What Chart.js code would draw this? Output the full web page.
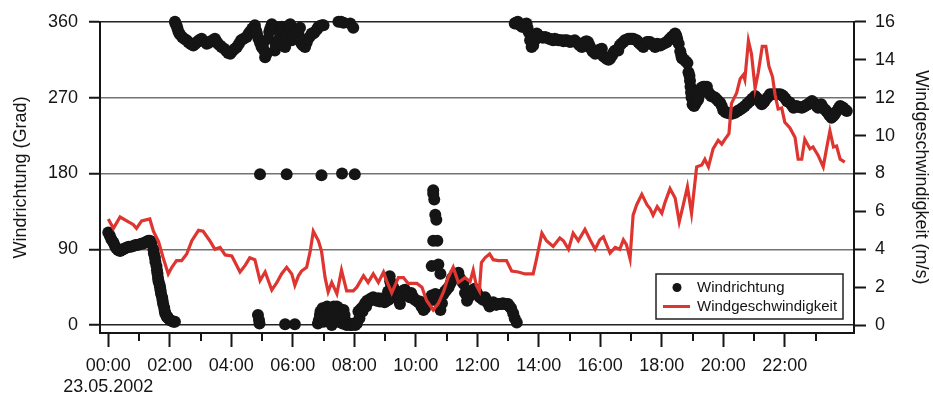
<!DOCTYPE html>
<html>
<head>
<meta charset="utf-8">
<title>Wind 23.05.2002</title>
<script src="https://cdn.jsdelivr.net/npm/chart.js@4.4.1/dist/chart.umd.min.js"></script>
<style>
  html, body { margin: 0; padding: 0; background: #fff; }
  #windChart { display: block; }
</style>
</head>
<body>
<canvas id="windChart" width="933" height="398"></canvas>
<script>
// Station readings of 23.05.2002, time in minutes after midnight
const dateLabel = "23.05.2002";

// Wind direction, [minute, degrees], grouped by stretch of the day
const dirNightEast = [
  [0, 110], [3, 106], [6, 102], [10, 98], [13, 94], [16, 91], [19, 89], [23, 88], [26, 89], [29, 90],
  [32, 91], [36, 92], [40, 93], [44, 93], [49, 94], [53, 95], [57, 95], [62, 96], [66, 97], [69, 97],
  [72, 98], [75, 99], [78, 100], [81, 100], [85, 99], [88, 90], [89, 85], [91, 80], [92, 75], [94, 70],
  [95, 65], [96, 61], [97, 56], [98, 52], [100, 48], [101, 45], [102, 41], [103, 37], [105, 33], [106, 29],
  [107, 25], [109, 21], [110, 17], [111, 14], [113, 12], [114, 10], [116, 9], [117, 8], [120, 6], [124, 5],
  [127, 4], [130, 4]
];
const dirMorningNorth = [
  [130, 360], [131, 358], [133, 356], [135, 352], [137, 348], [140, 345], [144, 342], [148, 340], [153, 338],
  [156, 336], [160, 334], [163, 333], [166, 332], [170, 334], [173, 336], [177, 338], [182, 340], [187, 337],
  [192, 334], [196, 335], [200, 337], [204, 338], [208, 340], [211, 337], [214, 334], [218, 332], [221, 330],
  [226, 328], [231, 325], [234, 323], [238, 322], [240, 324], [243, 326], [247, 328], [251, 330], [255, 334],
  [259, 338], [264, 340], [270, 342], [273, 345], [276, 348], [281, 352], [286, 356], [288, 350], [290, 346],
  [293, 340], [296, 335], [299, 330], [302, 334], [304, 326], [306, 318], [309, 322], [312, 340], [314, 348],
  [316, 352], [319, 357], [322, 355], [325, 326], [327, 332], [330, 336], [332, 338], [335, 346], [338, 354],
  [341, 342], [345, 330], [347, 340], [349, 350], [351, 354], [353, 356], [355, 357], [358, 338], [361, 344],
  [364, 350], [367, 348], [371, 346], [374, 353], [377, 334], [380, 332], [384, 330], [387, 335], [390, 340],
  [394, 343], [397, 346], [400, 346], [403, 348], [407, 351], [410, 354], [413, 355], [417, 356], [420, 356],
  [449, 360], [454, 360], [459, 359], [472, 358], [478, 353]
];
const dirSouth = [[296, 179], [348, 179], [416, 178], [456, 180], [481, 179]];
const dirMorningCalm = [[292, 12], [294, 6], [295, 2], [345, 1], [364, 1]];
const dirMiddayNorthEast = [
  [409, 2], [411, 6], [413, 12], [414, 16], [416, 10], [418, 20], [420, 4], [421, 14], [423, 18], [425, 6],
  [427, 22], [429, 20], [431, 14], [433, 8], [434, 4], [436, 0], [437, 12], [439, 18], [440, 22], [442, 10],
  [444, 16], [446, 22], [447, 12], [449, 4], [450, 20], [452, 4], [455, 10], [457, 2], [459, 18], [461, 12],
  [462, 6], [465, 0], [467, 2], [470, 2], [472, 0], [475, 0], [477, 1], [479, 2], [482, 0], [485, 2],
  [488, 16], [490, 8], [491, 18], [494, 20], [496, 16], [498, 22], [501, 26], [503, 22], [505, 29], [508, 28],
  [511, 31], [514, 32], [517, 33], [520, 30], [524, 29], [527, 32], [530, 28], [533, 30], [536, 32], [539, 27],
  [543, 29], [546, 40], [547, 30], [549, 58], [550, 52], [552, 47], [554, 44], [556, 45], [559, 40], [563, 39],
  [566, 30], [569, 25], [572, 34], [574, 38], [576, 41], [579, 42], [582, 36], [585, 37], [588, 33], [591, 38],
  [595, 33], [598, 30], [602, 29], [605, 27], [608, 28], [611, 22], [615, 18], [618, 20], [622, 26], [625, 30],
  [628, 31], [631, 35], [635, 30], [638, 37], [641, 36], [645, 28], [648, 18], [651, 26], [654, 37], [657, 40],
  [660, 42], [664, 45], [668, 50], [670, 55], [673, 57], [676, 60], [680, 58], [683, 62], [686, 56], [690, 52],
  [693, 49], [696, 38], [700, 29], [703, 33], [706, 37], [709, 40], [712, 42], [715, 43], [718, 40], [721, 36],
  [725, 33], [728, 32], [731, 30], [735, 33], [738, 29], [741, 26], [744, 22], [747, 26], [751, 27], [754, 25],
  [757, 24], [761, 25], [764, 25], [767, 25], [770, 26], [773, 25], [777, 25], [780, 25], [783, 22], [786, 20],
  [790, 14], [793, 8], [797, 3]
];
const dirGusty = [
  [634, 160], [634, 156], [636, 149], [638, 131], [640, 125], [634, 100], [642, 100], [631, 70], [644, 72], [648, 61]
];
const dirAfternoon = [
  [793, 358], [795, 359], [797, 358], [799, 360], [802, 357], [804, 356], [807, 354], [810, 354], [813, 357],
  [816, 358], [818, 353], [820, 348], [823, 338], [826, 330], [829, 332], [832, 338], [834, 342], [836, 346],
  [839, 344], [842, 342], [845, 342], [848, 341], [852, 342], [856, 341], [860, 340], [864, 339], [868, 338],
  [871, 340], [875, 339], [878, 338], [881, 338], [885, 338], [888, 337], [891, 338], [895, 338], [898, 337],
  [901, 336], [905, 337], [910, 338], [913, 336], [917, 334], [920, 332], [924, 330], [927, 333], [930, 336],
  [933, 337], [936, 336], [939, 332], [942, 328], [945, 325], [947, 324], [950, 322], [953, 324], [956, 326],
  [959, 327], [960, 326], [963, 328], [966, 319], [969, 318], [972, 316], [976, 315], [979, 316], [983, 320],
  [986, 324], [989, 326], [992, 326], [995, 326], [998, 332], [1001, 334], [1005, 336], [1008, 338], [1012, 339],
  [1015, 340], [1018, 340], [1021, 340], [1024, 340], [1027, 339], [1031, 338], [1034, 336], [1037, 334],
  [1041, 332], [1044, 330], [1047, 333], [1051, 336], [1054, 336], [1057, 336], [1061, 334], [1064, 332],
  [1067, 330], [1071, 334], [1074, 333], [1077, 332], [1080, 333], [1083, 334], [1087, 335], [1090, 336],
  [1093, 338], [1096, 340], [1099, 342], [1103, 344], [1106, 346], [1108, 344], [1110, 340], [1113, 334]
];
const dirEvening = [
  [1116, 325], [1118, 320], [1119, 317], [1121, 316], [1124, 315], [1127, 313], [1130, 311], [1132, 300],
  [1134, 296], [1135, 290], [1136, 283], [1137, 276], [1138, 270], [1140, 262], [1142, 261], [1143, 260],
  [1145, 262], [1147, 265], [1149, 266], [1151, 268], [1153, 274], [1155, 280], [1158, 282], [1161, 283],
  [1164, 283], [1168, 283], [1171, 276], [1174, 274], [1176, 272], [1180, 271], [1184, 270], [1187, 268],
  [1190, 266], [1194, 264], [1197, 260], [1200, 255], [1204, 253], [1207, 252], [1210, 252], [1213, 251],
  [1218, 251], [1223, 252], [1228, 254], [1233, 256], [1238, 258], [1242, 260], [1247, 263], [1252, 266],
  [1257, 269], [1262, 272], [1265, 270], [1268, 268], [1271, 265], [1275, 262], [1278, 264], [1281, 266],
  [1286, 270], [1291, 274], [1296, 274], [1301, 274], [1306, 274], [1311, 274], [1314, 273], [1317, 272],
  [1321, 269], [1324, 266], [1327, 265], [1330, 264], [1334, 261], [1337, 258], [1340, 259], [1343, 260],
  [1348, 259], [1353, 258], [1356, 259], [1359, 260], [1362, 261], [1365, 262], [1369, 264], [1373, 266],
  [1376, 264], [1379, 262], [1382, 260], [1385, 258], [1388, 260], [1391, 262], [1394, 259], [1398, 256],
  [1401, 254], [1404, 252], [1407, 249], [1411, 246], [1414, 248], [1417, 250], [1420, 253], [1424, 256],
  [1426, 258], [1428, 260], [1431, 259], [1434, 258], [1437, 256], [1441, 254]
];

// Wind speed (m/s)
const speedMinutes = [
  0, 10, 23, 36, 49, 55, 65, 81, 88, 98, 107, 117, 124, 133, 143, 153, 163, 176, 185, 198, 208, 218, 228, 241,
  257, 267, 276, 286, 296, 306, 319, 329, 338, 348, 358, 364, 371, 377, 387, 394, 400, 410, 416, 423, 429, 436,
  446, 455, 465, 478, 485, 498, 507, 517, 527, 537, 543, 553, 566, 576, 585, 602, 612, 621, 634, 644, 654, 663,
  673, 683, 696, 706, 712, 718, 724, 728, 735, 744, 751, 761, 777, 787, 800, 813, 829, 836, 846, 855, 868, 881,
  888, 898, 907, 917, 930, 940, 950, 959, 966, 969, 979, 989, 998, 1005, 1011, 1018, 1024, 1031, 1041, 1051,
  1057, 1063, 1071, 1080, 1086, 1096, 1106, 1114, 1122, 1130, 1138, 1148, 1158, 1164, 1171, 1180, 1190, 1197,
  1203, 1211, 1216, 1226, 1233, 1239, 1242, 1249, 1255, 1262, 1268, 1276, 1283, 1289, 1296, 1301, 1307, 1314,
  1320, 1330, 1340, 1346, 1353, 1359, 1369, 1375, 1385, 1395, 1402, 1408, 1415, 1421, 1428, 1437
];
const speedValues = [
  5.6, 5.1, 5.7, 5.5, 5.3, 5.1, 5.5, 5.6, 4.95, 4.4, 3.55, 2.7, 3.05, 3.4, 3.4, 3.75, 4.45, 5.0, 4.95, 4.45, 4.0, 4.1, 3.7, 3.65,
  2.8, 3.15, 3.55, 3.45, 2.35, 2.8, 1.85, 2.25, 2.7, 3.05, 2.7, 2.1, 2.6, 2.85, 3.05, 3.9, 4.95, 4.45, 3.9, 2.5, 1.75, 2.25,
  1.65, 2.9, 1.8, 1.8, 2.0, 2.6, 2.25, 2.7, 2.25, 2.8, 2.35, 1.7, 2.5, 2.5, 2.2, 2.2, 2.0, 1.3, 0.8, 1.15, 1.75, 2.5,
  3.05, 2.25, 2.5, 2.3, 2.9, 2.1, 1.8, 3.3, 3.55, 3.75, 3.45, 3.4, 3.4, 2.85, 2.8, 2.7, 2.7, 3.55, 4.85, 4.45, 4.15, 4.6,
  4.45, 4.0, 4.85, 4.45, 5.05, 4.5, 4.0, 4.5, 4.65, 4.45, 3.8, 4.1, 4.0, 4.5, 4.25, 3.5, 5.8, 6.35, 6.9, 6.35,
  6.15, 5.8, 6.25, 5.9, 6.45, 7.2, 6.7, 5.45, 6.35, 7.3, 5.9, 8.35, 8.45, 8.75, 8.35, 9.3, 9.75, 9.55,
  9.8, 10.1, 11.7, 12.25, 13.0, 13.2, 12.95, 15.0, 14.3, 12.5, 13.3, 14.7, 14.7, 13.65, 13.1, 12.15, 11.4, 11.45,
  10.7, 10.4, 9.9, 8.75, 8.75, 9.8, 9.3, 9.4, 8.95, 8.35, 9.4, 10.25, 9.4, 9.45, 8.75, 8.6
];

// Axis ticks
const majorTicks = [0, 120, 240, 360, 480, 600, 720, 840, 960, 1080, 1200, 1320];
const minorTicks = [60, 180, 300, 420, 540, 660, 780, 900, 1020, 1140, 1260, 1380];
const dirTicks = [0, 90, 180, 270, 360];
const speedTicks = [0, 2, 4, 6, 8, 10, 12, 14, 16];
const seriesNames = ["Windrichtung", "Windgeschwindigkeit"];

const FONT = "'Liberation Sans', Arial, Helvetica, sans-serif";
const INK = "#151515";
const RED = "#de3530";

Chart.defaults.font.family = FONT;
Chart.defaults.color = INK;

const dirPoints = [
  dirNightEast, dirMorningNorth, dirSouth, dirMorningCalm,
  dirMiddayNorthEast, dirGusty, dirAfternoon, dirEvening,
].flat().map(([m, d]) => ({ x: m, y: d }));
const speedPoints = speedMinutes.map((m, i) => ({ x: m, y: speedValues[i] }));

function hourLabel(value) {
  const hh = String(Math.round(value / 60)).padStart(2, "0") + ":00";
  return value === 0 ? [hh, dateLabel] : hh;
}

// short unlabeled ticks on the odd hours
const minorTickPlugin = {
  id: "minorTicks",
  afterDraw(chart) {
    const scale = chart.scales.x;
    const ctx = chart.ctx;
    ctx.save();
    ctx.strokeStyle = INK;
    ctx.lineWidth = 2;
    minorTicks.forEach((v) => {
      const px = Math.round(scale.getPixelForValue(v));
      ctx.beginPath();
      ctx.moveTo(px, scale.top);
      ctx.lineTo(px, scale.top + 8);
      ctx.stroke();
    });
    ctx.restore();
  },
};

// boxed legend in the lower right corner of the plot
const boxLegendPlugin = {
  id: "boxLegend",
  afterDraw(chart) {
    const { ctx, chartArea } = chart;
    const w = 187, h = 45;
    const left = chartArea.right - 11 - w;
    const top = chartArea.bottom - 14 - h;
    ctx.save();
    ctx.fillStyle = "#fff";
    ctx.fillRect(left, top, w, h);
    ctx.strokeStyle = "#222";
    ctx.lineWidth = 1.5;
    ctx.strokeRect(left, top, w, h);

    const rows = [top + 13.5, top + 32.5];
    // direction marker
    ctx.fillStyle = INK;
    ctx.beginPath();
    ctx.arc(left + 21, rows[0], 4.5, 0, Math.PI * 2);
    ctx.fill();
    // speed marker
    ctx.strokeStyle = RED;
    ctx.lineWidth = 3;
    ctx.beginPath();
    ctx.moveTo(left + 7, rows[1]);
    ctx.lineTo(left + 34, rows[1]);
    ctx.stroke();

    ctx.fillStyle = INK;
    ctx.font = "15px " + FONT;
    ctx.textBaseline = "middle";
    ctx.textAlign = "left";
    ctx.fillText(seriesNames[0], left + 41, rows[0]);
    ctx.fillText(seriesNames[1], left + 41, rows[1]);
    ctx.restore();
  },
};

new Chart(document.getElementById("windChart"), {
  type: "scatter",
  data: {
    datasets: [
      {
        label: seriesNames[1],
        data: speedPoints,
        yAxisID: "y1",
        showLine: true,
        borderColor: RED,
        borderWidth: 3.2,
        pointRadius: 0,
        tension: 0,
        fill: false,
        order: 0,
      },
      {
        label: seriesNames[0],
        data: dirPoints,
        yAxisID: "y",
        backgroundColor: INK,
        borderWidth: 0,
        pointRadius: 6,
        order: 1,
        clip: false,
      },
    ],
  },
  options: {
    responsive: false,
    animation: false,
    devicePixelRatio: 1,
    layout: { padding: { top: 18, left: 0, right: 0, bottom: 0 } },
    plugins: {
      legend: { display: false },
      tooltip: { enabled: false },
    },
    scales: {
      x: {
        type: "linear",
        position: "bottom",
        min: -16.2,
        max: 1455,
        afterBuildTicks: (scale) => {
          scale.ticks = majorTicks.map((v) => ({ value: v }));
        },
        afterFit: (scale) => {
          scale.height = 65;
        },
        border: { display: true, color: INK, width: 2 },
        grid: {
          drawOnChartArea: false,
          drawTicks: true,
          tickLength: 14,
          tickColor: INK,
          tickWidth: 2,
        },
        ticks: {
          autoSkip: false,
          maxRotation: 0,
          padding: 8,
          color: INK,
          font: { size: 18 },
          callback: (value) => hourLabel(value),
        },
      },
      y: {
        type: "linear",
        position: "left",
        min: -9.38,
        max: 360,
        afterBuildTicks: (scale) => {
          scale.ticks = dirTicks.map((v) => ({ value: v }));
        },
        afterFit: (scale) => {
          scale.width = 100;
        },
        border: { display: true, color: INK, width: 2 },
        grid: {
          color: (c) =>
            c.tick && (c.tick.value === 0 || c.tick.value === 360) ? "#222" : "#727272",
          lineWidth: 1.5,
          drawTicks: true,
          tickLength: 11,
          tickColor: INK,
          tickWidth: 2,
        },
        ticks: { padding: 11, color: INK, font: { size: 18 } },
        title: {
          display: true,
          text: "Windrichtung (Grad)",
          color: INK,
          font: { size: 18 },
          padding: { top: 10, bottom: 0 },
        },
      },
      y1: {
        type: "linear",
        position: "right",
        min: -0.417,
        max: 16,
        afterBuildTicks: (scale) => {
          scale.ticks = speedTicks.map((v) => ({ value: v }));
        },
        afterFit: (scale) => {
          scale.width = 79;
        },
        border: { display: true, color: INK, width: 2 },
        grid: {
          drawOnChartArea: false,
          drawTicks: true,
          tickLength: 12,
          tickColor: INK,
          tickWidth: 2,
        },
        ticks: { padding: 9, color: INK, font: { size: 18 } },
        title: {
          display: true,
          text: "Windgeschwindigkeit (m/s)",
          color: INK,
          font: { size: 18 },
          padding: { top: 1, bottom: 0 },
        },
      },
    },
  },
  plugins: [minorTickPlugin, boxLegendPlugin],
});
</script>
</body>
</html>
